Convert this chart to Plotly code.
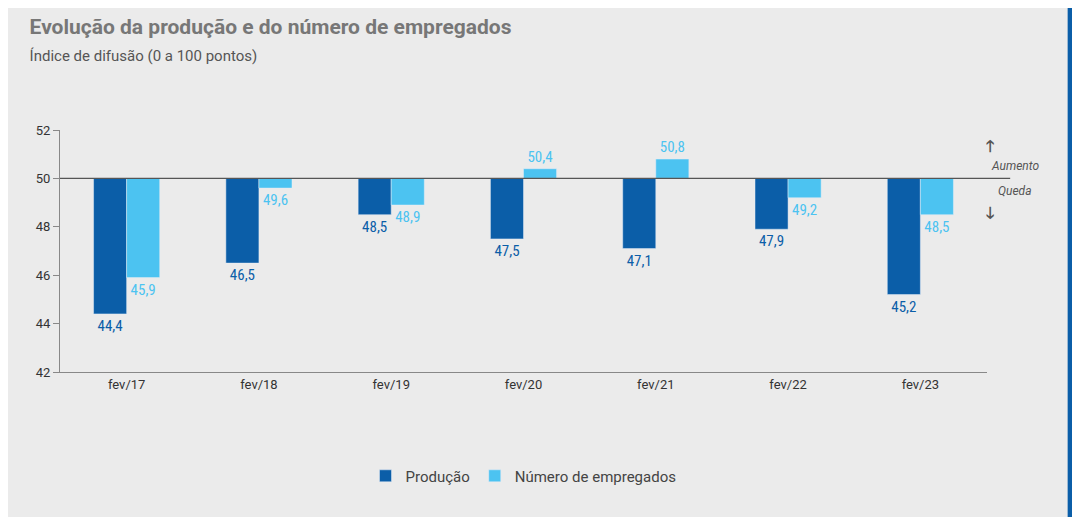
import plotly.graph_objects as go

categories = ["fev/17", "fev/18", "fev/19", "fev/20", "fev/21", "fev/22", "fev/23"]
producao = [44.4, 46.5, 48.5, 47.5, 47.1, 47.9, 45.2]
empregados = [45.9, 49.6, 48.9, 50.4, 50.8, 49.2, 48.5]

dark = "#0b5ea8"
light = "#4cc3f1"
base = 50

def fmt(v):
    return f"{v:.1f}".replace(".", ",")

fig = go.Figure()
fig.add_bar(x=categories, y=[v - base for v in producao], base=base, name="Produção",
            marker_color=dark, text=[fmt(v) for v in producao], textposition="outside",
            textfont=dict(color=dark, size=15, family="Roboto Condensed, Roboto"),
            cliponaxis=False)
fig.add_bar(x=categories, y=[v - base for v in empregados], base=base, name="Número de empregados",
            marker_color=light, text=[fmt(v) for v in empregados], textposition="outside",
            textfont=dict(color=light, size=15, family="Roboto Condensed, Roboto"),
            cliponaxis=False)

fig.update_layout(
    width=1080, height=517,
    paper_bgcolor="#ebebeb", plot_bgcolor="#ebebeb",
    font=dict(family="Roboto", color="#333333", size=13),
    barmode="group", bargap=0.5, bargroupgap=0,
    margin=dict(l=52, r=101, t=122, b=153),
    showlegend=True,
    legend=dict(orientation="h", x=0.5, xanchor="center", y=-0.43, yanchor="middle",
                font=dict(size=15, color="#444"), bgcolor="rgba(0,0,0,0)"),
    title=dict(text="<b>Evolução da produção e do número de empregados</b>"
                    "<br><span style='font-size:15px;color:#555'>Índice de difusão (0 a 100 pontos)</span>",
               x=0.02, xanchor="left", y=0.95, yanchor="top",
               font=dict(size=21, color="#777777")),
    xaxis=dict(showline=True, linecolor="#888", ticks="", showgrid=False,
               tickfont=dict(size=13, color="#333")),
    yaxis=dict(range=[42, 52], dtick=2, showgrid=False, zeroline=False,
               showline=True, linecolor="#888", ticks="outside", ticklen=6,
               tickcolor="#888", tickfont=dict(size=13, color="#333")),
)
# category separator ticks along bottom axis
for i in range(len(categories) + 1):
    fig.add_shape(type="line", xref="x", yref="y", x0=i - 0.5, x1=i - 0.5,
                  y0=42, y1=41.7, line=dict(color="#888", width=1))
fig.add_shape(type="line", xref="paper", yref="y", x0=0, x1=1.025, y0=50, y1=50,
              line=dict(color="#555", width=1.2))
fig.add_annotation(xref="paper", yref="y", x=1.03, y=50.15, text="<i>Aumento</i>",
                   showarrow=False, xanchor="center", yanchor="bottom",
                   font=dict(size=12, color="#555"))
fig.add_annotation(xref="paper", yref="y", x=1.03, y=49.85, text="<i>Queda</i>",
                   showarrow=False, xanchor="center", yanchor="top",
                   font=dict(size=12, color="#555"))
fig.add_annotation(xref="paper", yref="y", x=1.01, y=51.3, text="<b>🡑</b>",
                   showarrow=False, font=dict(size=16, color="#555"))
fig.add_annotation(xref="paper", yref="y", x=1.01, y=48.6, text="<b>🡓</b>",
                   showarrow=False, font=dict(size=16, color="#555"))
fig.add_shape(type="rect", xref="paper", yref="paper", x0=1.087, x1=1.095, y0=-1, y1=2,
              fillcolor="#0b5ea8", line=dict(width=0))

fig.write_html("out.html")
